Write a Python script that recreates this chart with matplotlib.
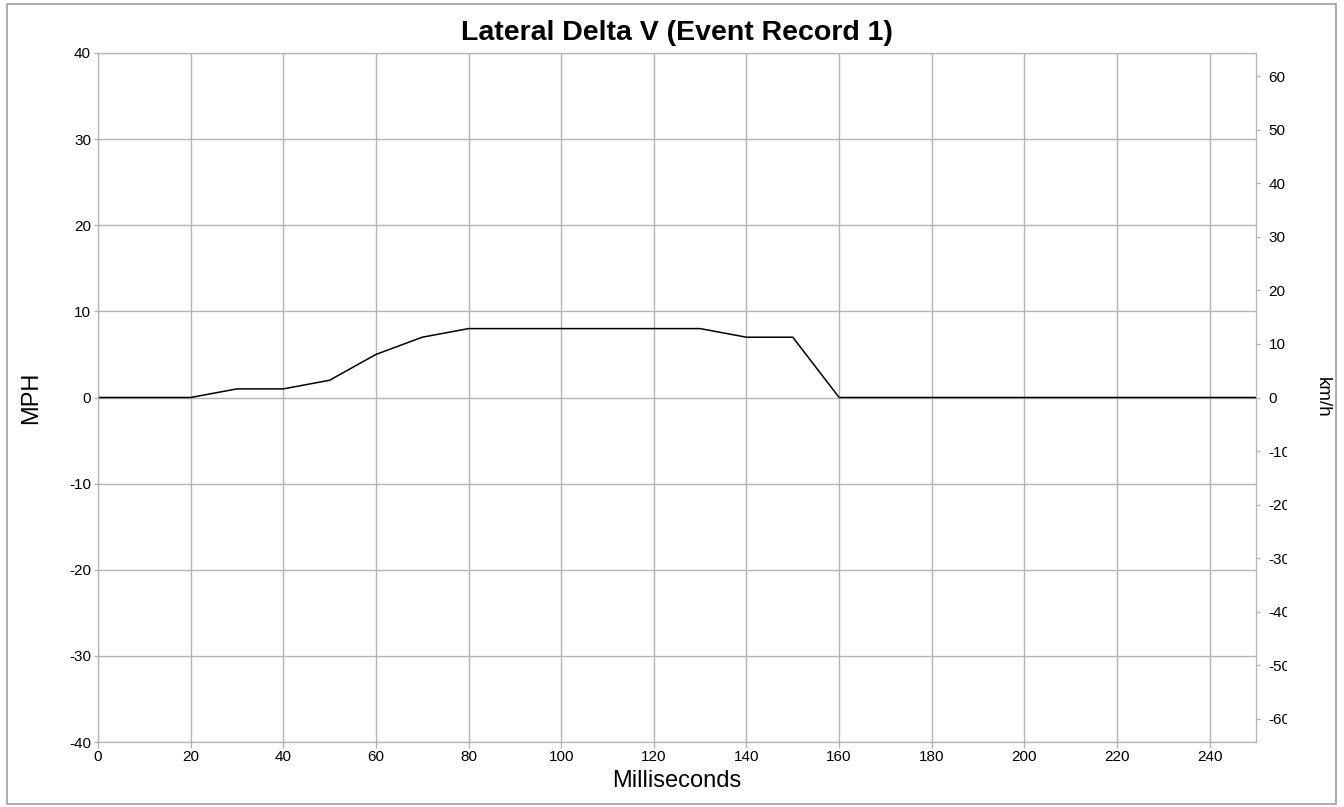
import matplotlib
matplotlib.use('Agg')
import matplotlib.pyplot as plt
from matplotlib.patches import Rectangle
from matplotlib.transforms import Bbox

plt.rcParams['font.family'] = ['Liberation Sans', 'DejaVu Sans']
plt.rcParams['axes.unicode_minus'] = False

ms = [0, 10, 20, 30, 40, 50, 60, 70, 80, 90, 100, 110, 120, 130, 140, 150,
      160, 170, 180, 190, 200, 210, 220, 230, 240, 250]
mph = [0, 0, 0, 1, 1, 2, 5, 7, 8, 8, 8, 8, 8, 8, 7, 7,
       0, 0, 0, 0, 0, 0, 0, 0, 0, 0]
x_ticks = list(range(0, 241, 20))
mph_ticks = list(range(-40, 41, 10))
kmh_ticks = list(range(-60, 61, 10))

grey = '#b3b3b3'

fig = plt.figure(figsize=(13.44, 8.07), dpi=100)
ax = fig.add_axes([98 / 1344, 1 - 742 / 807, (1256 - 98) / 1344, (742 - 53) / 807])

ax.plot(ms, mph, color='black', lw=1.1, zorder=3)
ax.set_xlim(0, 250)
ax.set_ylim(-40, 40)
ax.set_xticks(x_ticks)
ax.set_yticks(mph_ticks)
ax.grid(True, color=grey, lw=1)
for s in ax.spines.values():
    s.set_color(grey)
ax.tick_params(axis='both', colors=grey, labelcolor='black', labelsize=11, length=4, width=1)
ax.tick_params(axis='y', pad=2, length=3)
ax.tick_params(axis='x', pad=2)

ax.set_xlabel('Milliseconds', fontsize=17, labelpad=4)
ax.set_ylabel('MPH', fontsize=17)
ax.yaxis.set_label_coords((42 - 98) / 1158, 0.5)
ax.set_title('Lateral Delta V (Event Record 1)', fontsize=20.5, fontweight='bold', pad=9)

ax2 = ax.twinx()
ax2.set_ylim(-40 * 1.609344, 40 * 1.609344)
ax2.set_yticks(kmh_ticks)
for s in ax2.spines.values():
    s.set_color(grey)
ax2.tick_params(axis='y', colors=grey, labelcolor='black', labelsize=11, length=3, width=1, pad=6)
ax2.set_ylabel('km/h', fontsize=13.5, rotation=-90, va='center')
ax2.yaxis.set_label_coords((1322 - 98) / 1158, 0.5)

# outer frame
fig.patches.append(Rectangle((7 / 1344, 3 / 807), 1329 / 1344, 800 / 807,
                             transform=fig.transFigure, fill=False,
                             edgecolor='#a0a0a0', lw=1.2))

fig.canvas.draw()
clip = Bbox.from_extents(0, 0, 1287, 807)
for t in ax2.yaxis.get_major_ticks():
    t.label2.set_clip_box(clip)
    t.label2.set_clip_on(True)

fig.savefig('out.png', dpi=100)
